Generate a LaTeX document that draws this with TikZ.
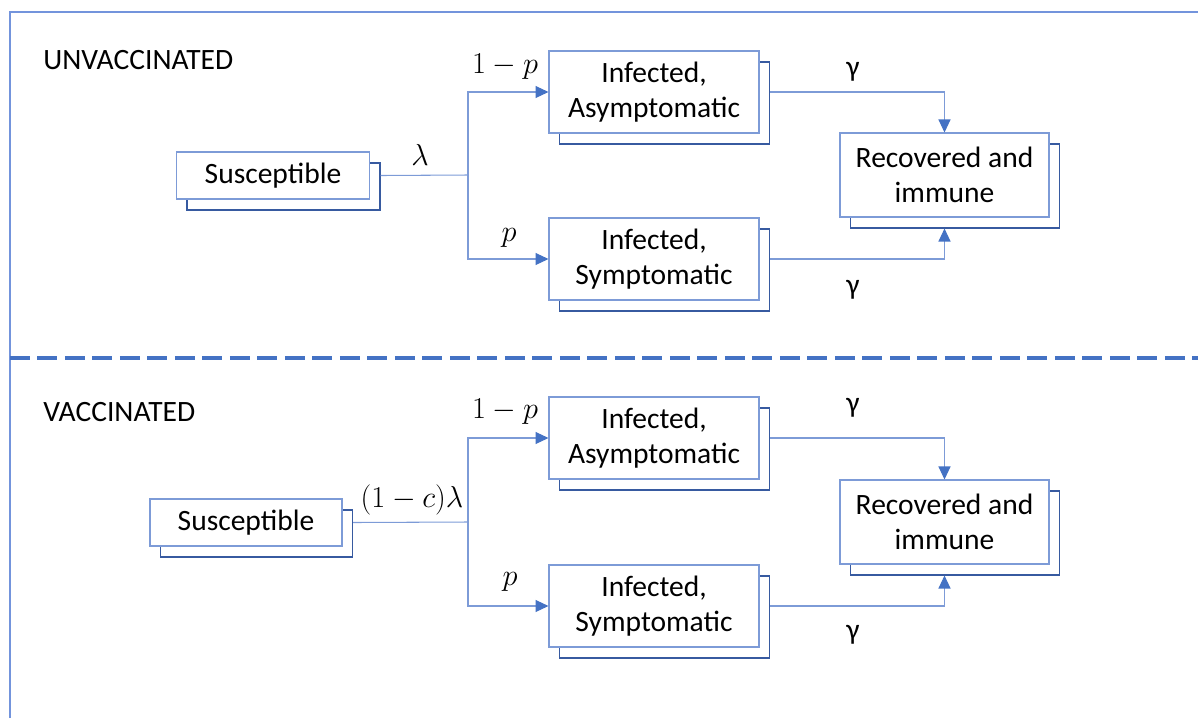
\documentclass[tikz,border=0pt]{standalone}
\usepackage{fontspec}
\setmainfont{Carlito}
\usetikzlibrary{arrows.meta,shadows}

\definecolor{frontline}{RGB}{125,155,215}
\definecolor{backline}{RGB}{55,90,160}
\definecolor{flowline}{RGB}{125,155,215}
\definecolor{tipcol}{RGB}{68,114,196}
\definecolor{framecol}{RGB}{115,148,220}

\begin{document}
\begin{tikzpicture}[
  x=0.02cm, y=-0.02cm,
  font=\fontsize{16.8}{20}\selectfont,
  stack/.style={
    rectangle,
    draw=frontline,
    fill=white,
    line width=0.6pt,
    align=center,
    inner sep=0pt,
    copy shadow={shadow xshift=0.21cm, shadow yshift=-0.22cm,
      draw=backline, fill=white, line width=0.8pt}},
  flow/.style={draw=flowline, line width=0.6pt},
  arr/.style={flow, -{Triangle[length=2.6mm, width=2.4mm, color=tipcol]}},
  lbl/.style={inner sep=0pt}
  ]
  \useasboundingbox (0,0) rectangle (1198,718);

  % frame and divider
  \draw[framecol, line width=1.2pt] (10,718) -- (10,12) -- (1198,12);
  \draw[tipcol, line width=1.9pt, dash pattern=on 0.4cm off 0.15cm] (10,358) -- (1198,358);

  \node[anchor=west, lbl] (unv) at (43,60) {UNVACCINATED};
  \node[anchor=west, lbl] (vac) at (43,412) {VACCINATED};

  % unvaccinated
  \node[stack, minimum width=3.86cm, minimum height=0.94cm] (sus) at (273,175.5) {Susceptible};
  \node[stack, minimum width=4.2cm, minimum height=1.64cm] (asym) at (654,92) {Infected,\\Asymptomatic};
  \node[stack, minimum width=4.2cm, minimum height=1.64cm] (sym) at (654,259) {Infected,\\Symptomatic};
  \node[stack, minimum width=4.18cm, minimum height=1.68cm] (rec) at (944.5,175) {Recovered and\\immune};
  \coordinate (b) at (468,175);

  \node[lbl] (lam) at (420,155) {$\lambda$};
  \node[lbl] (onep) at (505,67) {$1-p$};
  \node[lbl] (p) at (509,238) {$p$};
  \node[lbl] (ga) at (853,72) {γ};
  \node[lbl] (gs) at (853,290) {γ};

  \draw[flow] ([xshift=0.21cm]sus.east) -- (b);
  \draw[arr] (b) |- (asym.west);
  \draw[arr] (b) |- (sym.west);
  \draw[arr] ([xshift=0.21cm]asym.east) -| (rec.north);
  \draw[arr] ([xshift=0.21cm]sym.east) -| ([yshift=-0.22cm]rec.south);

  % vaccinated
  \node[stack, minimum width=3.84cm, minimum height=0.94cm] (vsus) at (246,522.5) {Susceptible};
  \node[stack, minimum width=4.2cm, minimum height=1.64cm] (vasym) at (654,438) {Infected,\\Asymptomatic};
  \node[stack, minimum width=4.2cm, minimum height=1.64cm] (vsym) at (654,606) {Infected,\\Symptomatic};
  \node[stack, minimum width=4.18cm, minimum height=1.68cm] (vrec) at (944.5,522) {Recovered and\\immune};
  \coordinate (vb) at (468,522);

  \node[lbl] (vlam) at (412,500) {$(1-c)\lambda$};
  \node[lbl] (vonep) at (505,412) {$1-p$};
  \node[lbl] (vp) at (510,582) {$p$};
  \node[lbl] (vga) at (853,408) {γ};
  \node[lbl] (vgs) at (853,635) {γ};

  \draw[flow] ([xshift=0.21cm]vsus.east) -- (vb);
  \draw[arr] (vb) |- (vasym.west);
  \draw[arr] (vb) |- (vsym.west);
  \draw[arr] ([xshift=0.21cm]vasym.east) -| (vrec.north);
  \draw[arr] ([xshift=0.21cm]vsym.east) -| ([yshift=-0.22cm]vrec.south);
\end{tikzpicture}
\end{document}
